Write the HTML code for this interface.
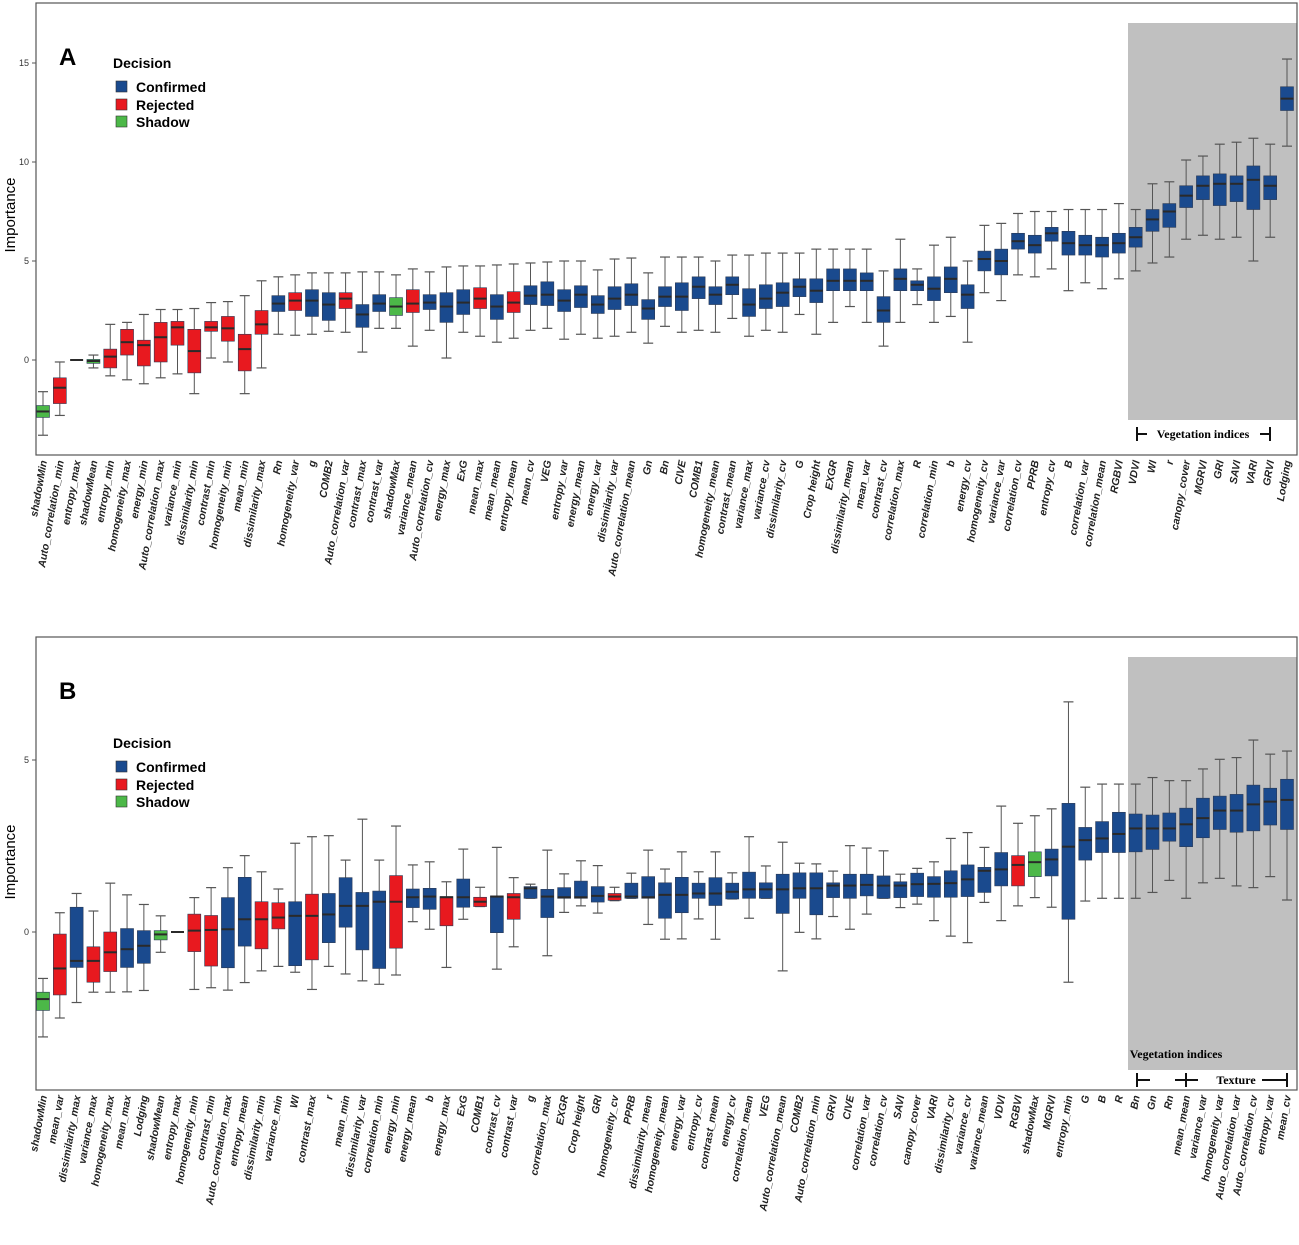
<!DOCTYPE html>
<html><head><meta charset="utf-8">
<style>
html,body{margin:0;padding:0;background:#fff;}
svg{display:block;font-family:"Liberation Sans",sans-serif;}
</style></head>
<body>
<svg id="chart" width="1299" height="1245" viewBox="0 0 1299 1245" xmlns="http://www.w3.org/2000/svg">
  <rect width="1299" height="1245" fill="#fff"/>
  <g>
    <rect x="1128" y="23" width="169" height="397" fill="#c0c0c0"/>
    <rect x="36" y="3" width="1261" height="452" fill="none" stroke="#555" stroke-width="1.2"/>
    <text x="59" y="65" font-size="24" font-weight="bold">A</text>
    <text transform="translate(15,215) rotate(-90)" text-anchor="middle" font-size="15">Importance</text>
    <g>
      <text x="113" y="68" font-size="14" font-weight="bold">Decision</text>
      <rect x="116" y="81" width="11" height="11" fill="#1a4a8e" stroke="#333" stroke-width="0.6"/>
      <text x="136" y="92" font-size="14" font-weight="bold">Confirmed</text>
      <rect x="116" y="99" width="11" height="11" fill="#e8191f" stroke="#333" stroke-width="0.6"/>
      <text x="136" y="110" font-size="14" font-weight="bold">Rejected</text>
      <rect x="116" y="116" width="11" height="11" fill="#4cb848" stroke="#333" stroke-width="0.6"/>
      <text x="136" y="127" font-size="14" font-weight="bold">Shadow</text>
    </g>
    <g stroke="#111" stroke-width="2">
      <line x1="1137" y1="427" x2="1137" y2="441"/><line x1="1137" y1="434" x2="1147" y2="434"/>
      <line x1="1270" y1="427" x2="1270" y2="441"/><line x1="1260" y1="434" x2="1270" y2="434"/>
    </g>
    <text x="1203" y="438" text-anchor="middle" font-family="Liberation Serif, serif" font-weight="bold" font-size="12">Vegetation indices</text>
  </g>
  <g>
    <rect x="1128" y="657" width="169" height="413" fill="#c0c0c0"/>
    <rect x="36" y="637" width="1261" height="453" fill="none" stroke="#555" stroke-width="1.2"/>
    <text x="59" y="699" font-size="24" font-weight="bold">B</text>
    <text transform="translate(15,862) rotate(-90)" text-anchor="middle" font-size="15">Importance</text>
    <g>
      <text x="113" y="748" font-size="14" font-weight="bold">Decision</text>
      <rect x="116" y="761" width="11" height="11" fill="#1a4a8e" stroke="#333" stroke-width="0.6"/>
      <text x="136" y="772" font-size="14" font-weight="bold">Confirmed</text>
      <rect x="116" y="779" width="11" height="11" fill="#e8191f" stroke="#333" stroke-width="0.6"/>
      <text x="136" y="790" font-size="14" font-weight="bold">Rejected</text>
      <rect x="116" y="796" width="11" height="11" fill="#4cb848" stroke="#333" stroke-width="0.6"/>
      <text x="136" y="807" font-size="14" font-weight="bold">Shadow</text>
    </g>
    <text x="1176" y="1058" text-anchor="middle" font-family="Liberation Serif, serif" font-weight="bold" font-size="12">Vegetation indices</text>
    <g stroke="#111" stroke-width="2">
      <line x1="1137" y1="1073" x2="1137" y2="1087"/><line x1="1137" y1="1080" x2="1150" y2="1080"/>
      <line x1="1175" y1="1080" x2="1198" y2="1080"/><line x1="1186" y1="1073" x2="1186" y2="1087"/>
      <line x1="1262" y1="1080" x2="1287" y2="1080"/><line x1="1287" y1="1073" x2="1287" y2="1087"/>
    </g>
    <text x="1236" y="1084" text-anchor="middle" font-family="Liberation Serif, serif" font-weight="bold" font-size="12">Texture</text>
  </g>
  <g id="marksA"></g>
  <g id="marksB"></g>
</svg>
<script>
// ---------- Panel A data ----------
const namesA = ["shadowMin","Auto_correlation_min","entropy_max","shadowMean","entropy_min","homogeneity_max","energy_min","Auto_correlation_max","variance_min","dissimilarity_min","contrast_min","homogeneity_min","mean_min","dissimilarity_max","Rn","homogeneity_var","g","COMB2","Auto_correlation_var","contrast_max","contrast_var","shadowMax","variance_mean","Auto_correlation_cv","energy_max","ExG","mean_max","mean_mean","entropy_mean","mean_cv","VEG","entropy_var","energy_mean","energy_var","dissimilarity_var","Auto_correlation_mean","Gn","Bn","CIVE","COMB1","homogeneity_mean","contrast_mean","variance_max","variance_cv","dissimilarity_cv","G","Crop height","EXGR","dissimilarity_mean","mean_var","contrast_cv","correlation_max","R","correlation_min","b","energy_cv","homogeneity_cv","variance_var","correlation_cv","PPRB","entropy_cv","B","correlation_var","correlation_mean","RGBVI","VDVI","WI","r","canopy_cover","MGRVI","GRI","SAVI","VARI","GRVI","Lodging"];
const decisionA = ("SRRSRRRRRR" + "RRRRCRCCRC" + "CSRCCCRCRC" + "CCCCCCCCCC" + "CCCCCCCCCC" + "CCCCCCCCCC" + "CCCCCCCCCC" + "CCCCC").split("");
const minA = [-3.8,-2.8,0,-0.4,-0.8, -1.0,-1.2,-0.9,-0.7,-1.7, 0.1,-0.1,-1.7,-0.4,1.3, 1.25,1.3,1.45,1.4,0.4, 1.6,1.6,0.7,1.5,0.1, 1.4,1.2,0.9,1.1,1.5, 1.6,1.05,1.3,1.1,1.2, 1.4,0.85,1.7,1.4,1.5, 1.4,2.1,1.2,1.5,1.4, 2.3,1.3,1.9,2.7,1.9, 0.7,1.9,2.8,1.9,2.2, 0.9,3.4,3.0,4.3,4.2, 4.6,3.5,3.9,3.6,4.1, 4.5,4.9,5.2,6.1,6.3, 6.1,6.2,5.0,6.2,10.8];
const q1A = [-2.9,-2.2,0,-0.17,-0.4, 0.25,-0.3,-0.1,0.75,-0.65, 1.45,0.95,-0.55,1.3,2.45, 2.5,2.2,2.0,2.6,1.65, 2.45,2.25,2.4,2.55,1.9, 2.3,2.6,2.05,2.4,2.8, 2.75,2.45,2.65,2.35,2.55, 2.75,2.05,2.7,2.5,3.1, 2.8,3.3,2.2,2.6,2.7, 3.2,2.9,3.5,3.5,3.5, 1.9,3.5,3.5,3.0,3.4, 2.6,4.5,4.3,5.6,5.4, 6.0,5.3,5.3,5.2,5.4, 5.7,6.5,6.7,7.7,8.1, 7.8,8.0,7.6,8.1,12.6];
const medA = [-2.6,-1.4,0,-0.05,0.17, 0.9,0.75,1.15,1.65,0.45, 1.65,1.6,0.55,1.8,2.85, 3.0,3.0,2.8,3.1,2.3, 2.85,2.7,2.85,2.9,2.7, 2.9,3.1,2.7,2.9,3.25, 3.3,3.0,3.3,2.8,3.1, 3.3,2.6,3.2,3.2,3.7, 3.3,3.8,2.8,3.1,3.4, 3.7,3.5,4.0,4.0,4.0, 2.5,4.1,3.8,3.6,4.1, 3.3,5.1,5.0,6.0,5.8, 6.4,5.9,5.8,5.8,5.9, 6.2,7.1,7.5,8.3,8.8, 8.9,8.9,9.1,8.8,13.2];
const q3A = [-2.3,-0.9,0,0.03,0.55, 1.55,1.0,1.9,1.95,1.55, 1.95,2.2,1.3,2.5,3.25, 3.4,3.55,3.4,3.4,2.8, 3.3,3.15,3.55,3.3,3.4, 3.55,3.65,3.3,3.45,3.75, 3.95,3.55,3.75,3.25,3.7, 3.85,3.05,3.7,3.9,4.2, 3.7,4.2,3.6,3.8,3.9, 4.1,4.1,4.6,4.6,4.4, 3.2,4.6,4.0,4.2,4.7, 3.8,5.5,5.6,6.4,6.3, 6.7,6.5,6.3,6.2,6.4, 6.7,7.6,7.9,8.8,9.3, 9.4,9.3,9.8,9.3,13.8];
const maxA = [-1.6,-0.1,0,0.25,1.8, 1.9,2.3,2.55,2.55,2.6, 2.9,2.95,3.25,4.0,4.2, 4.3,4.4,4.4,4.4,4.45, 4.45,4.3,4.6,4.45,4.7, 4.75,4.75,4.8,4.85,4.9, 4.95,5.0,5.0,4.55,5.1, 5.15,4.4,5.2,5.2,5.2, 5.0,5.3,5.3,5.4,5.4, 5.4,5.6,5.6,5.6,5.6, 4.5,6.1,4.6,5.8,6.2, 5.0,6.8,6.9,7.4,7.5, 7.5,7.6,7.6,7.6,7.9, 7.6,8.9,9.0,10.1,10.3, 10.9,11.0,11.2,10.9,15.2];
const ticksA = [0,5,10,15];

// ---------- Panel B data ----------
const namesB = ["shadowMin","mean_var","dissimilarity_max","variance_max","homogeneity_max","mean_max","Lodging","shadowMean","entropy_max","homogeneity_min","contrast_min","Auto_correlation_max","entropy_mean","dissimilarity_min","variance_min","WI","contrast_max","r","mean_min","dissimilarity_var","correlation_min","energy_min","energy_mean","b","energy_max","ExG","COMB1","contrast_cv","contrast_var","g","correlation_max","EXGR","Crop height","GRI","homogeneity_cv","PPRB","dissimilarity_mean","homogeneity_mean","energy_var","entropy_cv","contrast_mean","energy_cv","correlation_mean","VEG","Auto_correlation_mean","COMB2","Auto_correlation_min","GRVI","CIVE","correlation_var","correlation_cv","SAVI","canopy_cover","VARI","dissimilarity_cv","variance_cv","variance_mean","VDVI","RGBVI","shadowMax","MGRVI","entropy_min","G","B","R","Bn","Gn","Rn","mean_mean","variance_var","homogeneity_var","Auto_correlation_var","Auto_correlation_cv","entropy_var","mean_cv"];
const decisionB = ("SRCRRCCSRR" + "RCCRRCRCCC" + "CRCCRCRCRC" + "CCCCRCCCCC" + "CCCCCCCCCC" + "CCCCCCCCRS" + "CCCCCCCCCC" + "CCCCC").split("");
const minB = [-3.05,-2.5,-2.05,-1.75,-1.75, -1.74,-1.7,-0.59,0,-1.67, -1.62,-1.69,-1.47,-1.13,-1.0, -1.17,-1.67,-1.0,-1.22,-1.42, -1.52,-1.25,0.3,0.08,-1.03, 0.37,0.74,-1.08,-0.43,0.98, -0.69,0.57,0.76,0.55,0.91, 0.98,0.22,-0.21,-0.2,0.38, -0.21,0.96,0.4,0.98,-1.13, -0.01,-0.2,0.45,0.08,0.52, 0.98,0.71,0.81,0.33,-0.12, -0.31,0.86,0.33,0.76,1.0, 0.72,-1.46,0.9,0.98,0.98, 0.98,1.15,1.5,0.98,1.43, 1.56,1.34,1.29,1.61,0.93];
const q1B = [-2.28,-1.83,-1.03,-1.46,-1.15, -1.03,-0.91,-0.23,0,-0.57, -0.99,-1.04,-0.41,-0.49,0.09, -0.98,-0.81,-0.31,0.14,-0.52, -1.06,-0.47,0.71,0.66,0.18, 0.72,0.74,-0.02,0.37,0.98, 0.42,0.98,0.98,0.87,0.92, 0.98,0.98,0.4,0.56,0.98, 0.77,0.96,0.98,0.98,0.54, 0.98,0.5,1.0,0.98,1.05, 0.98,1.0,1.03,1.01,1.01, 1.03,1.15,1.34,1.34,1.61, 1.63,0.37,2.09,2.31,2.31, 2.33,2.4,2.64,2.48,2.74, 2.98,2.9,2.94,3.11,2.98];
const medB = [-1.95,-1.06,-0.84,-0.84,-0.59, -0.5,-0.4,-0.07,0,0.04, 0.06,0.08,0.37,0.37,0.42, 0.47,0.47,0.51,0.76,0.76, 0.88,0.88,1.01,1.03,1.01, 1.01,0.88,1.03,1.01,1.27, 1.03,1.01,1.01,1.05,1.03, 1.03,1.01,1.08,1.08,1.12, 1.12,1.17,1.24,1.24,1.24, 1.27,1.27,1.35,1.35,1.37, 1.35,1.35,1.39,1.4,1.42, 1.53,1.78,1.82,1.95,2.03, 2.11,2.48,2.67,2.72,2.85, 3.01,3.01,3.01,3.13,3.31, 3.53,3.53,3.71,3.79,3.84];
const q3B = [-1.75,-0.06,0.72,-0.43,0, 0.1,0.04,0.04,0,0.52, 0.48,1.0,1.59,0.88,0.85, 0.88,1.1,1.12,1.58,1.15, 1.19,1.64,1.25,1.27,1.03, 1.54,1.01,1.05,1.12,1.32, 1.24,1.29,1.48,1.32,1.12, 1.42,1.61,1.43,1.59,1.42, 1.58,1.42,1.74,1.43,1.68, 1.72,1.72,1.43,1.68,1.68, 1.63,1.46,1.71,1.61,1.78, 1.95,1.88,2.31,2.22,2.33, 2.41,3.74,3.04,3.21,3.48, 3.43,3.4,3.46,3.6,3.89, 3.95,4.0,4.27,4.18,4.44];
const maxB = [-1.35,0.56,1.12,0.61,1.42, 1.08,0.8,0.47,0,1.0, 1.29,1.87,2.22,1.75,1.25, 2.58,2.77,2.8,2.09,3.28, 2.09,3.08,1.95,2.04,1.46, 2.41,1.3,2.46,1.58,1.39, 2.38,1.69,2.07,1.93,1.3, 1.71,2.38,1.83,2.33,1.75, 2.33,1.72,2.77,1.92,2.61, 2.0,1.98,1.77,2.51,2.44, 2.36,1.68,1.85,2.04,2.72, 2.89,2.46,3.66,3.16,3.38, 3.58,6.69,4.21,4.3,4.3, 4.3,4.49,4.4,4.4,4.74, 5.02,5.07,5.58,5.17,5.26];
const ticksB = [0,5];

const COLORS = {C:"#1a4a8e", R:"#e8191f", S:"#4cb848"};
const NS = "http://www.w3.org/2000/svg";

function mk(tag, attrs, parent){
  const e = document.createElementNS(NS, tag);
  for (const k in attrs) e.setAttribute(k, attrs[k]);
  parent.appendChild(e);
  return e;
}

function drawPanel(g, names, dec, mins, q1s, meds, q3s, maxs, ticks, y0, pxPerUnit, labelTop, prefix){
  const n = names.length;
  const x0 = 43, x1 = 1287;
  const xScale = i => x0 + i * (x1 - x0) / (n - 1);
  const yScale = v => y0 - v * pxPerUnit;
  ticks.forEach(t => {
    const tk = mk("line", {x1:32, x2:36, y1:yScale(t), y2:yScale(t), stroke:"#555", "stroke-width":1}, g);
    
    
    const tl = mk("text", {x:29, y:yScale(t)+3, "text-anchor":"end", "font-size":9, fill:"#333"}, g);
    tl.textContent = String(t);
    
    
  });
  for (let i = 0; i < n; i++){
    const cx = xScale(i);
    const bg = mk("g", {}, g);
    
    
    const col = COLORS[dec[i]] || COLORS.C;
    mk("line", {x1:cx, x2:cx, y1:yScale(maxs[i]), y2:yScale(q3s[i]), stroke:"#555", "stroke-width":1}, bg);
    mk("line", {x1:cx, x2:cx, y1:yScale(q1s[i]), y2:yScale(mins[i]), stroke:"#555", "stroke-width":1}, bg);
    mk("line", {x1:cx-5, x2:cx+5, y1:yScale(maxs[i]), y2:yScale(maxs[i]), stroke:"#555", "stroke-width":1.2}, bg);
    mk("line", {x1:cx-5, x2:cx+5, y1:yScale(mins[i]), y2:yScale(mins[i]), stroke:"#555", "stroke-width":1.2}, bg);
    const h = Math.max(0.5, yScale(q1s[i]) - yScale(q3s[i]));
    if (q3s[i] > q1s[i]) {
      mk("rect", {x:cx-6.5, y:yScale(q3s[i]), width:13, height:h, fill:col, stroke:"#2b3a55", "stroke-width":0.6}, bg);
    }
    mk("line", {x1:cx-6.5, x2:cx+6.5, y1:yScale(meds[i]), y2:yScale(meds[i]), stroke:"#2a2a2a", "stroke-width":2}, bg);
    const lb = mk("text", {transform:"translate(" + (cx+4) + "," + labelTop + ") rotate(-80)", "text-anchor":"end", "font-size":10.5, "font-weight":"bold", "font-style":"italic", fill:"#222"}, g);
    lb.textContent = names[i];
    
    
  }
}

drawPanel(document.getElementById("marksA"), namesA, decisionA, minA, q1A, medA, q3A, maxA, ticksA, 360, 19.8, 461, "panel-a");
drawPanel(document.getElementById("marksB"), namesB, decisionB, minB, q1B, medB, q3B, maxB, ticksB, 932, 34.4, 1096, "panel-b");
</script>
</body></html>
